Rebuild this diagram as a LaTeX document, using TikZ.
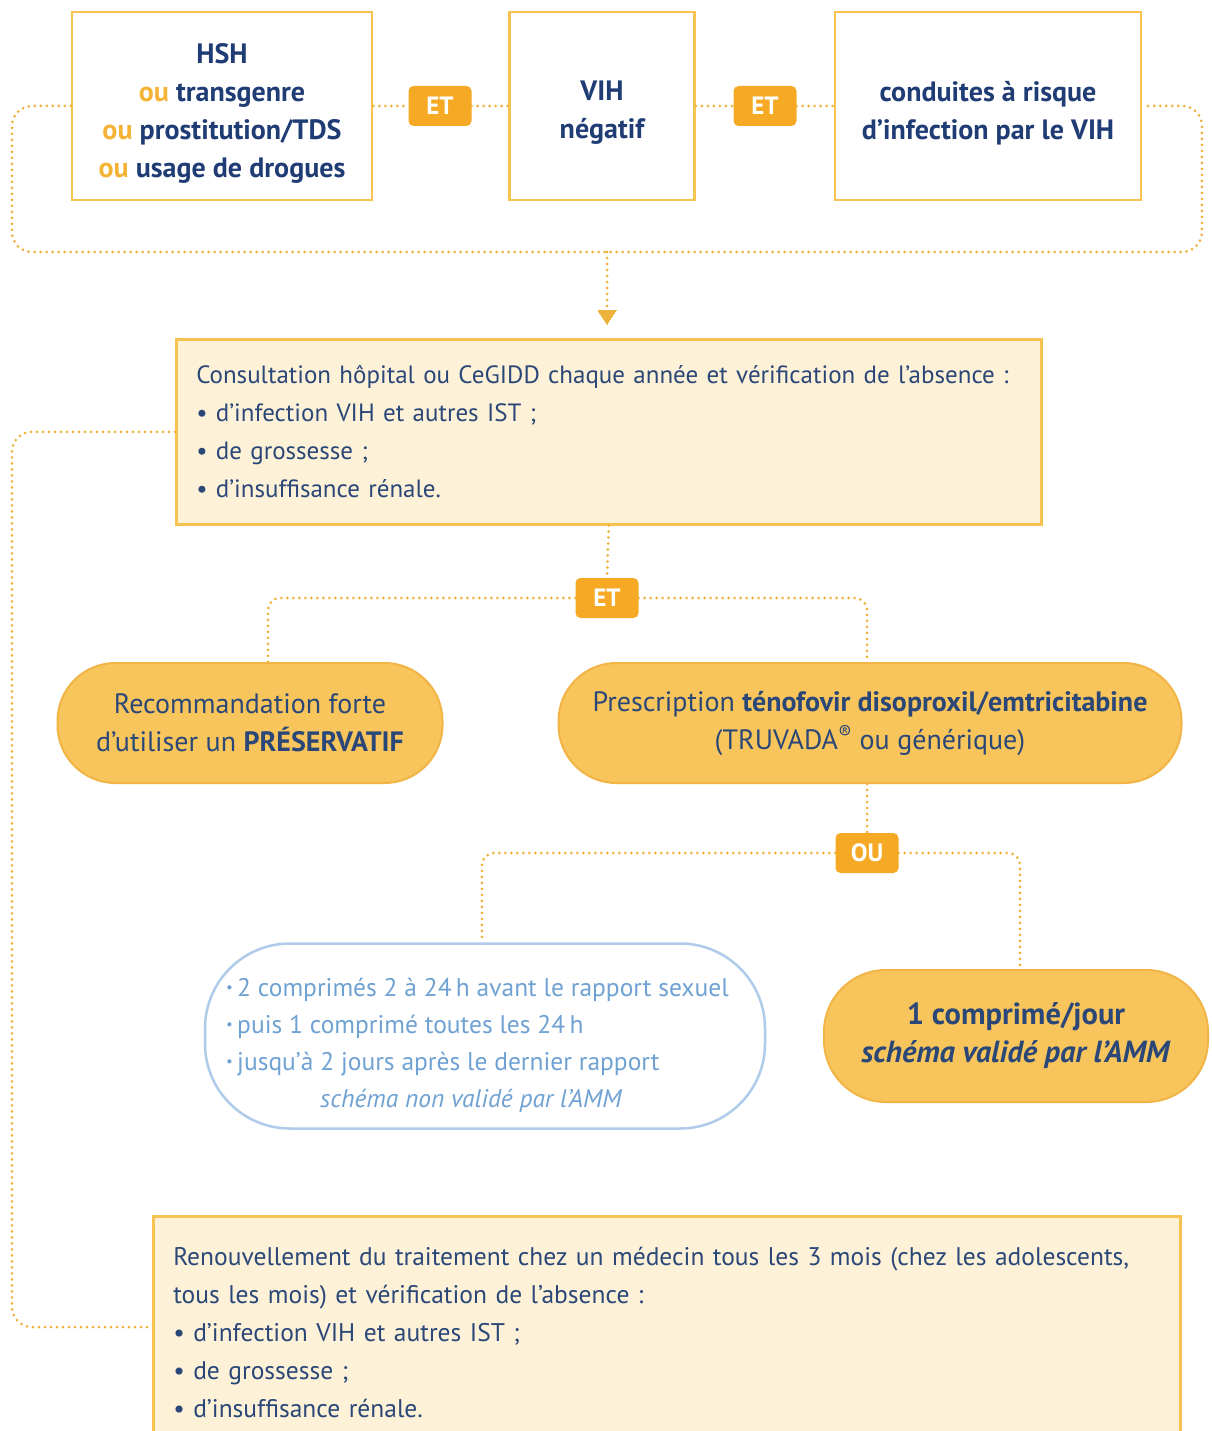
\documentclass[tikz,border=0pt]{standalone}
\usepackage{fontspec}
\setmainfont{PT Sans}
\usetikzlibrary{arrows.meta,calc}
\definecolor{navy}{HTML}{1F3C74}
\definecolor{orng}{HTML}{F5B335}
\definecolor{badge}{HTML}{F6A924}
\definecolor{dotc}{HTML}{EDB23C}
\definecolor{boxline}{HTML}{F6C250}
\definecolor{cream}{HTML}{FDF1D8}
\definecolor{pillfill}{HTML}{F8C55C}
\definecolor{pillline}{HTML}{F1B445}
\definecolor{lblue}{HTML}{AECBEA}
\definecolor{tblue}{HTML}{6FA2D3}
\definecolor{ttext}{HTML}{2A4777}
\tikzset{
  topbox/.style={draw=boxline, line width=2.5pt, fill=white, minimum height=188pt, inner sep=0pt},
  toptext/.style={align=center, text=navy, font=\fontsize{28}{38}\selectfont\bfseries, inner sep=0pt},
  badgebox/.style={fill=badge, rounded corners=5pt, minimum width=63pt, minimum height=40pt,
    text=white, font=\fontsize{25}{25}\selectfont\bfseries, inner sep=0pt},
  infobox/.style={draw=boxline, line width=2.5pt, fill=cream, align=left, text=ttext,
    font=\fontsize{25.5}{38}\selectfont, inner xsep=20pt, inner ysep=0pt},
  pill/.style={draw=pillline, line width=2pt, fill=pillfill, align=center, text=ttext,
    font=\fontsize{28}{38}\selectfont, inner sep=0pt},
  dotline/.style={draw=dotc, line width=3pt, line cap=round, dash pattern=on 0pt off 6pt},
}
\newcommand{\ouw}{{\color{orng}ou}}
\newcommand{\smallbul}{\raisebox{0.15em}{\fontsize{15}{15}\selectfont•}\,}
\begin{document}
\begin{tikzpicture}[x=1pt,y=-1pt]
\useasboundingbox (0,0) rectangle (1211,1431);
\fill[white] (0,0) rectangle (1211,1431);

% top boxes
\node[topbox, minimum width=300pt] (b1) at (222,106) {};
\node[topbox, minimum width=185pt] (b2) at (602,106) {};
\node[topbox, minimum width=306pt] (b3) at (988,106) {};
\node[toptext] (b1t) at (222,113) {HSH\\\ouw{} transgenre\\\ouw{} prostitution/TDS\\\ouw{} usage de drogues};
\node[toptext] (b2t) at (602,113) {VIH\\négatif};
\node[toptext] (b3t) at (988,113) {conduites à risque\\d'infection par le VIH};
\node[badgebox] (et1) at (440,106) {ET};
\node[badgebox] (et2) at (765,106) {ET};
\draw[dotline] (b1.east) -- (et1.west);
\draw[dotline] (et1.east) -- (b2.west);
\draw[dotline] (b2.east) -- (et2.west);
\draw[dotline] (et2.east) -- (b3.west);

% loop around top
\coordinate (lj) at (607,252);
\draw[dotline, rounded corners=20pt] (b1.west) -| (12,252) -| (1202,106) -- (b3.east);

% consultation box
\node[infobox, font=\fontsize{25}{38}\selectfont, text width=825pt, minimum height=185pt, anchor=north west] (cons) at (175,338)
 {Consultation hôpital ou CeGIDD chaque année et vérification de l'absence~:\\
  • d'infection VIH et autres IST~;\\
  • de grossesse~;\\
  • d'insuffisance rénale.};
\draw[dotline] (lj) -- (607,306);
\draw[dotc, line width=0pt, fill=dotc] (598,310) -- (616,310) -- (607,324) -- cycle;

% ET badge + pills
\node[badgebox] (et3) at (607,598) {ET};
\draw[dotline] (cons.south) -- (et3.north);
\node[pill, minimum width=385pt, minimum height=120pt, rounded corners=58pt] (p1) at (250,723)
 {Recommandation forte\\d'utiliser un \textbf{PRÉSERVATIF}};
\node[pill, minimum width=623pt, minimum height=120pt, rounded corners=58pt] (p2) at (870,723)
 {Prescription \textbf{ténofovir disoproxil/emtricitabine}\\(TRUVADA\textsuperscript{®} ou générique)};
\draw[dotline, rounded corners=12pt] (et3.west) -| (p1.north -| 268,0);
\draw[dotline, rounded corners=12pt] (et3.east) -| (p2.north -| 867,0);

% OU badge
\node[badgebox] (ou) at (867,853) {OU};
\draw[dotline] (p2.south -| 867,0) -- (ou.north);
\node[draw=lblue, line width=2.5pt, fill=white, rounded corners=85pt, minimum width=560pt, minimum height=185pt,
  inner sep=0pt] (p3) at (485,1036) {};
\node[text=tblue, font=\fontsize{25.5}{37}\selectfont, align=left, inner sep=0pt, anchor=west] (p3t) at (226,1045)
 {\smallbul 2 comprimés 2 à 24\,h avant le rapport sexuel\\
  \smallbul puis 1 comprimé toutes les 24\,h\\
  \smallbul jusqu'à 2 jours après le dernier rapport\\
  \hspace*{94pt}\textit{schéma non validé par l'AMM}};
\node[pill, minimum width=384pt, minimum height=132pt, rounded corners=62pt, font=\fontsize{30.5}{38}\selectfont\bfseries] (p4) at (1016,1036)
 {1 comprimé/jour\\\textit{schéma validé par l'AMM}};
\draw[dotline, rounded corners=12pt] (ou.west) -| (p3.north -| 482,0);
\draw[dotline, rounded corners=12pt] (ou.east) -| (p4.north -| 1020,0);

% bottom box
\node[infobox, text width=987pt, minimum height=232pt, anchor=north west] (bot) at (152,1215)
 {Renouvellement du traitement chez un médecin tous les 3 mois (chez les adolescents,\\
  tous les mois) et vérification de l'absence~:\\
  • d'infection VIH et autres IST~;\\
  • de grossesse~;\\
  • d'insuffisance rénale.};

% feedback loop
\draw[dotline, rounded corners=20pt] (cons.west) -| (12,1327) -- ([yshift=-112pt]bot.north west);
\end{tikzpicture}
\end{document}
